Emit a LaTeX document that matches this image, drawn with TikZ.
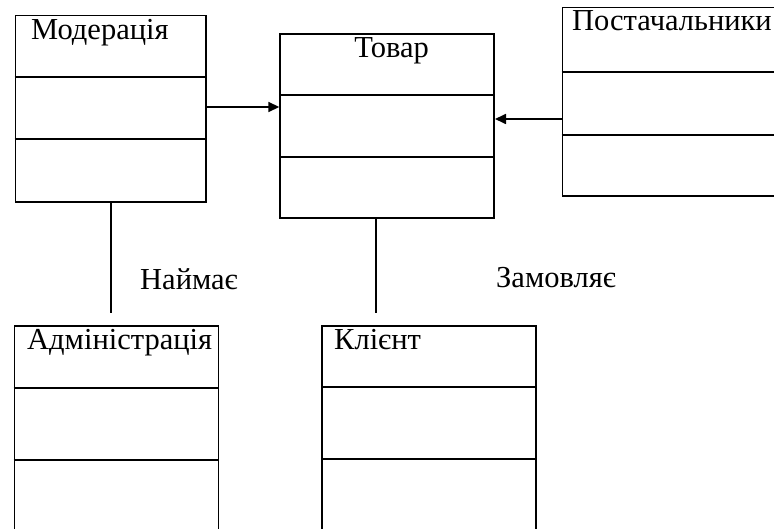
\documentclass[tikz,border=0pt]{standalone}
\usepackage{fontspec}
\setmainfont{Liberation Serif}
\usetikzlibrary{arrows.meta}
\tikzset{
  classbox/.style={draw, line width=1.7pt, inner sep=0pt, anchor=north west},
  sepline/.style={line width=1.7pt},
  conn/.style={line width=1.7pt},
  arr/.style={conn, -{Triangle[length=11pt,width=10pt]}},
  title/.style={inner sep=0pt, font=\fontsize{30.5}{33}\selectfont},
}
\begin{document}
\begin{tikzpicture}[x=1pt,y=-1pt]
\useasboundingbox (0,0) rectangle (774,529);
\clip (0,0) rectangle (774,529);

% class boxes
\node[classbox, minimum width=190.5pt, minimum height=186.5pt] (mod) at (14.7,14.7) {};
\node[classbox, minimum width=214pt, minimum height=184pt] (tov) at (279.3,33.3) {};
\node[classbox, minimum width=240pt, minimum height=188.5pt] (post) at (561.7,6.7) {};
\node[classbox, minimum width=204pt, minimum height=230pt] (adm) at (13.5,325) {};
\node[classbox, minimum width=214pt, minimum height=230pt] (kli) at (321.2,325) {};

% compartment separators
\draw[sepline] (mod.west |- 0,77) -- (mod.east |- 0,77);
\draw[sepline] (mod.west |- 0,139) -- (mod.east |- 0,139);
\draw[sepline] (tov.west |- 0,95.3) -- (tov.east |- 0,95.3);
\draw[sepline] (tov.west |- 0,157) -- (tov.east |- 0,157);
\draw[sepline] (post.west |- 0,72.3) -- (post.east |- 0,72.3);
\draw[sepline] (post.west |- 0,135) -- (post.east |- 0,135);
\draw[sepline] (adm.west |- 0,387.7) -- (adm.east |- 0,387.7);
\draw[sepline] (adm.west |- 0,460) -- (adm.east |- 0,460);
\draw[sepline] (kli.west |- 0,386.7) -- (kli.east |- 0,386.7);
\draw[sepline] (kli.west |- 0,459.3) -- (kli.east |- 0,459.3);

% class names
\node[title, anchor=base west] (tmod) at (31,40) {Модерація};
\node[title, anchor=base] (ttov) at (391.6,58) {Товар};
\node[title, anchor=base east] (tpost) at (772,31) {Постачальники};
\node[title, anchor=base west] (tadm) at (27,350) {Адміністрація};
\node[title, anchor=base west] (tkli) at (334,350) {Клієнт};

% associations
\coordinate (admtop) at (111,313.3);
\coordinate (klitop) at (375.7,313.3);
\draw[arr] (mod.east |- 0,107) -- (tov.west |- 0,107);
\draw[arr] (post.west |- 0,119) -- (tov.east |- 0,119);
\draw[conn] (mod.south -| admtop) -- (admtop);
\draw[conn] (tov.south -| klitop) -- (klitop);

% association labels
\node[title, anchor=base west] (lnaim) at (140,290) {Наймає};
\node[title, anchor=base west] (lzam) at (496,288) {Замовляє};
\end{tikzpicture}
\end{document}
